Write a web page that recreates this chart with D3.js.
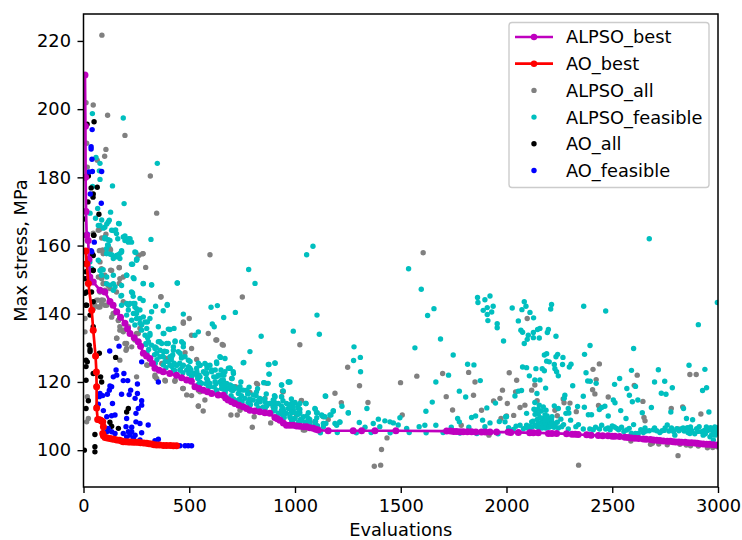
<!DOCTYPE html>
<html>
<head>
<meta charset="utf-8">
<script src="https://cdn.jsdelivr.net/npm/d3@7"></script>
<style>
  html, body { margin: 0; padding: 0; background: #fff; }
  svg { display: block; }
  text { font-family: "DejaVu Sans", sans-serif; fill: #000; }
</style>
</head>
<body>
<div id="chart"></div>
<script>
// values: [evaluations, max stress]
var xTicks = [0, 500, 1000, 1500, 2000, 2500, 3000];
var yTicks = [100, 120, 140, 160, 180, 200, 220];

var alpsoAll = [
  [87,221.7],[46,201.2],[12,201.9],[114,198.2],[196,192.3],[106,188.2],[100,186.2],[65,185],[15,190],[18,183],
  [316,180.4],[346,169.5],[598,157.3],[280,157.6],[264,157.2],[75,164.6],[106,163.3],[86,162.2],[75,158.5],[91,158.7],
  [128,158.7],[46,163.6],[294,153.6],[169,153.6],[128,152.8],[86,150.3],[102,148.9],[188,150.8],[169,148.9],[94,148.9],
  [125,147.4],[366,145],[751,144.9],[70,144],[86,144],[54,142.5],[94,144],[70,142],[46,141.5],[141,140.1],
  [165,138.1],[172,136.2],[188,134.7],[157,132.8],[204,131.3],[228,130.3],[201,129.3],[251,134.2],[267,135.7],[500,138.6],
  [472,137.6],[590,134.2],[511,133.7],[626,132.3],[656,131],[511,129.8],[535,126.6],[302,124.9],[338,121.5],[387,120.3],
  [432,120.2],[472,118.1],[488,116.2],[511,116],[551,117.1],[543,112.9],[574,114.7],[566,111.5],[697,110.3],[727,110.3],
  [798,106.7],[885,108],[818,119.6],[866,119.6],[944,117.1],[937,115.7],[897,112.7],[1007,110.3],[251,121.5],[18,115.7],
  [7,134.7],[7,138.6],[15,108.3],[23,109.3],[1606,157.9],[1023,130.9],[1249,124.3],[1576,121.7],[1698,122.5],[1305,118.9],
  [1499,119.8],[1821,122.8],[1851,120],[2013,122.7],[1981,117.6],[1844,116.1],[1715,115.7],[1969,115.2],[1939,114.4],[2004,113.7],
  [1745,111.8],[1882,111.7],[1974,109.3],[2000,110],[1786,107.3],[1189,116.7],[1219,113.9],[1345,114],[1030,114.6],[1507,110.3],
  [1134,109.8],[1157,109],[1435,103.6],[1409,100.2],[1405,95.6],[1375,95.3],[1047,105.9],[1917,104.4],[1094,108.3],[2098,138.6],
  [2048,120.5],[2043,117.1],[2119,117.6],[2134,119.1],[2064,112.5],[2087,113.2],[2034,110.2],[2145,114.5],[2229,111.7],[2240,110.1],
  [2268,115],[2272,113.9],[2300,113.8],[2330,111.3],[2409,123.7],[2439,125.3],[2424,120.7],[2407,117.7],[2418,116.5],[2481,115.6],
  [2435,113.1],[2618,122],[2604,119],[2645,114.3],[2650,109.6],[2655,108.6],[2779,112.2],[2833,112.7],[2867,122.2],[2897,122.2],
  [2919,110.6],[2811,106.2],[2811,98.4],[2681,101.7],[2588,102.7],[2341,95.6],[2820,101.7],[2907,101.2],[2997,101],
  [86,143],[110,142.5],[141,140],[133,139],[165,138],[172,135.2],[188,135.2],[212,136.2],[157,132.8],[196,131.3],
  [204,129.8],[172,126.4],[299,125],[338,122],[346,121],[385,120.5],[433,120.5],[469,118.1],[543,117.6],[543,113],
  [630,132.3],[661,130.8],[472,137.2],[480,128.6],[259,134.2],[243,132.3],[370,125.4],[393,126.9],[823,119.3],[807,109.8],
  [941,117.3],[1031,114.5],[858,115.2],[787,116.9],[740,111.7],[700,121],[1039,105.9],[719,118.6],[1097,108.5],
  [70,164.5],[101,162.5],[78,158.6],[93,157.6],[125,159.1],[282,157.6],[259,157.1],[169,153.5],[133,152.7],[78,155.2],
  [85,153.2],[101,151.3],[70,150.8],[172,150.3],[93,148.8],[117,148.3],[78,146.4],[101,146.9],[156,146.4],[62,144],
  [85,144],[78,142],[101,142.5],[188,143.5],[366,144.9],
  [2690,102],[2720,101.8],[2760,101.6],[2850,101.5],[2870,101.3],[2950,100.7],[2975,100.8]
];

var alpsoFeasible = [
  [188,197.4],[42,198.7],[349,184.1],[78,184.1],[59,185.8],[75,181.9],[78,179.4],[137,177.5],[43,177.3],[192,172.3],
  [31,169.5],[67,170.9],[128,169.8],[57,168],[86,167.5],[122,167.4],[110,166.3],[166,166.5],[70,165.9],[94,165.1],
  [141,164.4],[152,164.6],[196,162.8],[220,162],[162,162],[212,161],[319,161.8],[117,161.7],[102,162.4],[114,160.2],
  [133,157.3],[180,158.5],[247,158],[253,156.1],[165,157.3],[110,157.7],[781,153],[811,148.9],[444,149],[232,154.5],
  [251,155.9],[157,156.7],[125,157.5],[173,157.7],[70,155.7],[86,152.8],[110,150.8],[204,151.3],[239,150.3],[125,148.4],
  [149,147.9],[177,145.2],[283,148.9],[322,148.4],[232,146.1],[267,144.5],[236,143],[212,142.5],[251,141.5],[341,142.2],
  [396,142.7],[377,140.9],[322,140.6],[251,140.1],[267,138.6],[314,138.6],[302,137.6],[275,136.7],[472,139.9],[603,141.9],
  [633,142.4],[718,140.4],[663,138.9],[609,137],[618,136.2],[543,134.7],[527,133.7],[354,136.2],[401,135.5],[428,135.7],
  [380,134.2],[314,133.7],[295,131.3],[361,131.8],[393,131.3],[433,132],[472,131.3],[338,129.8],[377,128.9],[425,129.3],
  [456,128.4],[480,127.4],[409,127.4],[361,127.4],[648,127.2],[669,126.9],[629,125.9],[787,128.9],[755,125.6],[840,133.4],
  [992,134.9],[874,125.1],[906,125.5],[877,122.3],[693,124],[709,122.5],[970,120],[937,119.1],[853,119.8],[583,124.9],
  [551,124.9],[606,123.5],[629,121.5],[661,122.5],[583,122.5],[440,124.9],[488,123.5],[520,122.5],[409,124.9],[425,123.5],
  [456,123.5],[551,121.5],[598,119.6],[645,120],[677,119.6],[709,118.6],[740,117.6],[772,117.6],[803,116.2],[835,114.2],
  [866,113.7],[906,115.7],[897,112.7],[944,112.2],[976,113.2],[992,111.8],[1015,110.8],[1015,113.2],[960,110.8],[921,110.8],
  [787,114.7],[1085,159.8],[1055,157.3],[1104,139.6],[1115,134],[1279,130.3],[1277,126.3],[1309,127.2],[1310,123],[1537,153.2],
  [1597,147.2],[1657,141.5],[1627,139.5],[1688,132.6],[1567,130],[1748,127.9],[1816,125.2],[1846,125],[1726,122],[1666,120],
  [1876,120.4],[1777,117.3],[1807,115.6],[1649,114.1],[1619,111.4],[1340,112.2],[1252,110.9],[1145,115.8],[1222,112.9],[1181,111.4],
  [1096,112],[1105,111],[1170,110.3],[1130,110],[1052,113.7],[1000,114],[976,120],[1907,112.4],[1948,113.8],[1986,132],
  [1956,137.1],[1956,135.9],[1863,144.8],[1865,143.3],[1898,144.1],[1922,145.2],[1937,142.2],[1890,141],[1909,141.8],[1930,140.5],
  [1909,139.8],[1912,138],[1835,109.6],[1854,110],[1887,108.8],[1769,109.3],[1777,108.3],[1922,108],[1996,109.8],[1966,108.4],
  [1304,108.1],[1394,109.1],[1370,107.8],[1425,108.6],[1449,108.3],[1465,108],[1488,107.4],[1496,109.5],[1587,106.9],[1614,107.3],
  [1666,107.3],[1739,106.7],[1528,106.4],[1401,106.9],[1331,106.7],[1212,108.2],[1189,107.8],[1134,106.9],[1146,107.8],[1898,106.9],
  [1822,106.7],[992,112.7],[1015,112.2],[984,111.2],[1023,111],[1000,109.3],[1031,108.8],[1063,109.3],[984,108.8],[1071,108],
  [1047,108.3],[1015,107.8],[1094,107],[2675,162],[2997,143.3],[2084,143.5],[2213,142.7],[2027,141.7],[2092,142.2],[2073,141.2],
  [2209,141.4],[2365,142.2],[2469,140.8],[2111,140.4],[2128,138.8],[2056,137.9],[2907,136.8],[2068,135.2],[2076,134.6],[2158,135.7],
  [2147,135.4],[2198,135.4],[2193,134.5],[2127,134.5],[2103,133.7],[2127,133],[2155,132.9],[2234,133.4],[2098,132.5],[2084,131.3],
  [2395,130.7],[2601,129.8],[2190,128.3],[2179,127.9],[2242,128.1],[2234,127.4],[2267,127.2],[2369,128.1],[2190,126.1],[2202,125.9],
  [2226,125.1],[2265,125.1],[2305,125.2],[2297,124.4],[2229,123.9],[2237,123],[2245,121.8],[2076,124.4],[2095,124.2],[2139,123.9],
  [2169,123.9],[2179,123.3],[2108,121.8],[2134,120.6],[2158,120.6],[2185,118.2],[2376,122.7],[2384,120.3],[2396,120.2],[2424,119.6],
  [2313,118.9],[2591,123.4],[2535,121],[2511,119.3],[2569,118.1],[2610,118.7],[2718,123.6],[2700,120],[2748,120.2],[2784,118.3],
  [2732,116.7],[2754,116.4],[2863,124.9],[2938,123.7],[2946,118.3],[2927,117.5],[2363,115.8],[2276,116.1],[2273,115.2],[2144,116.6],
  [2071,117.5],[2056,117.3],[2040,115.9],[2505,114.7],[2513,113.9],[2581,116.1],[2595,114.2],[2621,114.7],[2134,114],[2155,113.2],
  [2174,112.7],[2139,111.7],[2187,111.7],[2226,113],[2245,112.2],[2336,112.8],[2368,112.6],[2292,112.2],[2295,110.9],[2281,110.8],
  [2095,110.8],[2439,111.9],[2450,112.5],[2465,112.9],[2540,111.6],[2481,110],[2387,110.4],[2402,110.4],[2565,109.3],[2642,111],
  [2685,112.5],[2777,111.2],[2837,112.2],[2957,111.2],[2000,109.8],[1993,108.3],[2303,108.8],[2257,109.1],[2182,110.3],[2174,109.3],
  [2213,108.8],[2198,109.3],[2166,108.3],[2190,108.3],[2221,107.8],[2150,107.8],[2119,108.3],[2095,107.3],[2064,107.3],[2174,106.9],
  [2205,106.9],[2134,107.3],[2261,106.9],[2292,106.2],[2328,106.9],[2363,106.2],[2394,106.2],[2421,106.7],[2450,107.3],[2469,106.2],
  [2500,107.1],[2521,106.4],[2544,106.7],[2601,107.5],[2568,105.9],[2623,104.9],[2647,105.2],[2675,105.7],[2710,105.7],[2736,105.7],
  [2760,107.4],[2768,105.6],[2796,104.4],[2815,105.7],[2840,105.6],[2851,109.3],[2880,108.9],[2870,106.8],[2899,106.3],[2911,106.9],
  [2922,105.4],[2949,105.7],[2978,105.7],[2990,105.9],[2986,104.4],[2962,103.9],[2978,103],[2867,104.9],[2930,104.4],[2032,106.1],
  [1120,105.1],[1200,105.2],[1290,105.1],[1360,105.2],[1450,105.1],[1540,105.2],[1620,105.1],[1700,105.2],[1780,105],[1860,104.9],[1960,104.8],
  [220,143],[243,142],[212,141.1],[267,141.1],[236,140.1],[204,139.6],[283,139.1],[251,138.6],[228,138.1],[267,137.2],
  [291,137.6],[243,136.7],[299,135.7],[275,135.2],[314,134.2],[291,133.7],[377,134.2],[409,135.4],[354,131.8],[307,131.8],
  [322,130.8],[338,130.3],[370,131.3],[401,131.3],[433,131.8],[464,131.8],[425,130.3],[362,129.3],[393,128.9],[448,128.9],
  [472,130.3],[346,128.4],[377,127.4],[417,127.4],[464,127.4],[496,126.4],[401,125.9],[440,124.9],[472,124.9],[503,124],
  [535,124],[551,124.9],[574,125.4],[598,124.9],[630,125.4],[645,127.4],[685,124],[567,123],[606,123],[637,122],
  [661,120.6],[535,122],[582,121],[622,120.1],[653,119.1],[685,118.1],[559,119.6],[598,118.6],[630,117.6],[669,116.6],
  [653,120.5],[645,122],[669,119.6],[692,119.1],[716,118.1],[740,118.6],[755,117.6],[779,116.6],[732,116.6],[700,117.6],
  [677,118.1],[653,118.1],[818,117.1],[834,115.2],[803,114.7],[763,115.2],[732,114.7],[787,113.7],[858,114.2],[881,113.7],
  [897,114.7],[921,113.7],[960,113.7],[984,113.7],[1023,113.7],[1051,113.7],[968,112.2],[936,111.7],[905,111.7],[850,112.7],
  [826,112.2],[984,111.3],[1007,110.8],[1039,109.8],[1070,109],[1094,112.2],[1102,111],[1126,110.3],[1141,109.8],[1181,111.6],
  [1165,110.3],[1212,108.3],[1252,111],[1197,107.3],[1134,107.8],[1094,107.3],[1023,108.3],[1055,107.8],[976,109.8],[944,110.3],
  [999,109.3],[853,119.8],[873,119.6],[878,122.3],[877,125.1],[905,125.6],[936,119.1],[968,120],[944,117.4],[936,115.7],
  [900,114.7],[913,113.7],[1143,115.9],[758,125.7],[692,124],[708,123],[669,123],[650,123.5],
  [169,166.4],[117,166.9],[78,165.9],[101,165.4],[133,164.5],[156,163.5],[188,162.5],[212,162],[227,161],[196,161.5],
  [101,162],[125,161.5],[117,160.1],[109,159.1],[109,157.6],[156,157.1],[180,158.1],[172,156.2],[243,158.1],[251,155.7],
  [227,154.5],[141,156.2],[30,155.2],[38,153.2],[93,152.9],[78,152.7],[85,151.3],[141,151.3],[204,151.3],[235,150.6],
  [109,148.8],[141,148.8],[180,148.3],[282,148.8],[322,148.5],[443,149],[141,146.9],[180,145.4],[227,146.4],[235,145.1],
  [282,143.9],[204,143],[243,143],[180,142.5],[396,142.5],
  [2130,112],[2150,110.5],[2160,109.5],[2170,108],[2180,108.5],[2195,107.5],[2205,108],[2215,109.8],[2145,109],[2125,108.5],
  [2140,107],[2185,106.5],[2160,106.8],[2110,107],[2230,107],[2245,106.5],[2480,106.5],[2530,106],[2555,105.5],[2590,105],
  [2610,104.9],[2660,105.6],[2695,106],[2725,105.2],[2750,106.5],[2790,105.5],[2825,106.2],[2858,105.2],[2890,104.8],[2935,105.8],
  [2960,106],[2970,104.5],[2995,105],
  [303,133],[296,131],[308,129.5],[300,128.5],[344,130],[336,128],[347,126.5],[339,125.5],[383,129],[375,127.5],
  [386,126],[378,125],[390,124.2],[422,128],[415,126.5],[428,125.5],[418,124.5],[431,123.4],[463,127],[455,125.5],
  [466,124.5],[458,123.5],[470,122.7],[504,126],[496,124.5],[508,123.5],[498,122.5],[511,121.5],[543,125.5],[536,123],
  [546,122],[540,121],[550,120],[543,119.3],[584,124],[576,122.5],[587,120.5],[579,119.5],[590,118.8],[623,123.5],
  [616,121.5],[626,119.5],[618,118.5],[629,117.5],[664,122],[656,120.5],[667,119],[659,118],[670,117.2],[703,121],
  [696,119],[706,117.5],[698,116],[709,115],[744,120],[736,118],[747,116],[739,115],[750,114.2],[783,118.5],
  [776,116.5],[786,115],[778,114],[789,113.3],[823,118],[816,116],[826,114.5],[818,113.5],[829,112.4],[864,116.5],
  [856,115],[867,113],[859,112.2],[903,116],[896,113.5],[906,112.5],[898,111.5],[943,114.5],[936,113],[946,111.5],
  [938,110.5],[949,109.6],[983,115],[976,112.5],[986,111],[978,109.5],[989,108.6],[1023,112],[1016,110.5],[1026,109],
  [1018,108.2],[1063,111],[1056,110],[1066,108.5],[1058,107.6],[1103,109.5],[1096,108.5],[1106,107.2],
  [2100,106.5],[2120,106.8],[2135,110.5],[2152,106.6],[2165,111.5],[2178,107.2],[2192,110],[2200,106.7],[2210,107.6],[2225,106.7],
  [2240,108.2],[2168,106.5],[2185,109.2],[2150,112],[2010,106.6],[2045,107],[2080,106.3],[2110,106.4],[2270,107.5],[2340,107.5],
  [2410,106],[2440,106.2],[2490,106],[2510,106.8],[2580,106.4],[2635,106],[2655,106.5],[2700,106.5],[2745,105.8],[2780,106.5],
  [2805,106.3],[2835,106.5],[2855,106.6],[2875,105.8],[2905,105.5],[2945,106.8],[2965,106.6],[2985,106.8],[2998,106.5],[2940,104.8]
];

var aoAll = [
  [50,196.3],[17,195.6],[23,180.4],[36,176.9],[65,177.1],[46,175.1],[45,174.2],[21,172.8],[73,169.2],[2,167.8],
  [48,163],[43,157.4],[4,154.7],[46,152.8],[12,152.3],[7,150.3],[7,146],[15,142.5],[31,139.6],[46,136.2],
  [27,130.8],[31,129.5],[31,128.9],[75,128.4],[152,127.2],[12,126.4],[18,125.9],[12,124.5],[81,121.5],[86,120],
  [12,112.2],[23,114.5],[212,112.2],[204,111.2],[125,108.2],[133,107],[165,106.4],[54,104.6],[4,100],[54,101],
  [54,99.5],[62,112.7],[46,122.5],[12,120.5],[49,163],[46,157.1],[46,152.7],[15,150.3],[15,146.4],[38,146.4],
  [11,142.5],[46,143.5]
];

var aoFeasible = [
  [41,194],[36,189],[36,188.3],[40,185.3],[42,181.7],[86,181.7],[26,181.6],[32,175.1],[84,172.4],[18,163.3],
  [51,161],[36,158.5],[39,158.2],[124,129.1],[168,130.5],[275,125.9],[354,120],[154,123.5],[157,122],[141,121.5],
  [191,122.5],[188,120.4],[209,120.4],[255,119.4],[125,118.8],[133,118.6],[122,117.6],[113,116.4],[78,116.6],[91,116],
  [75,115.7],[180,116.4],[223,117.6],[216,116.3],[255,116.6],[244,115.2],[70,113.5],[137,113.7],[275,114.5],[275,113.2],
  [259,112.2],[248,110.8],[94,111.6],[149,110.3],[133,110.1],[110,109.8],[204,109.3],[248,108.3],[267,107.8],[306,107.4],
  [201,106.9],[228,106.7],[228,105.4],[212,105.4],[275,105.1],[188,104.9],[117,106.4],[133,105.4],[149,104.9],[110,105.4],
  [204,103.9],[236,103.4],[354,103.2],[267,103],[338,102.8],[220,104.4],[244,104.4],[456,101.3],[480,101.3],[495,101.3],[511,101.3]
];

var alpsoBest = [
  [7,210],[9,195],[10,180],[12,170],[15,163],[22,161.5],[26,156],[30,150.8],[46,149.3],[78,146.9],
  [101,146.4],[125,143.6],[140,142.5],[157,140.6],[175,139],[196,137.2],[208,135.6],[220,134.2],[240,133],[259,131.8],
  [270,130.5],[283,128.4],[298,127.6],[314,126.9],[326,125.4],[338,124],[358,123.4],[377,123],[408,122.5],[440,122],
  [464,121.2],[488,120.6],[510,120.2],[527,118.6],[547,118.1],[567,117.6],[586,117.1],[606,116.6],[637,116.2],[661,116.1],
  [672,115.3],[684,114.7],[700,114.2],[716,113.7],[735,113.2],[755,112.7],[771,112.2],[787,111.7],[810,111.5],[834,111.3],
  [858,111],[881,110.8],[905,109.6],[917,109.2],[929,108.8],[945,108],[960,107.3],[976,107.3],[992,107.3],[1008,107.1],
  [1023,107],[1040,106.9],[1055,106.9],[1070,106.6],[1086,106.4],[1098,106.1],[1110,105.9],[1157,105.7],[1275,105.7],[1315,105.7],
  [1378,105.7],[1477,105.7],[1717,105.6],[1735,105.6],[1750,105.5],[1764,105.5],[1780,105.4],[1795,105.4],[1815,105.4],[1835,105.4],
  [1855,105.3],[1882,105.3],[1900,105.3],[1922,105.3],[1953,105.3],[2008,105.3],[2020,105.2],[2056,105.2],[2110,105.1],[2127,105.1],
  [2150,105.1],[2198,104.9],[2215,104.9],[2237,104.9],[2284,104.8],[2310,104.7],[2325,104.7],[2339,104.6],[2379,104.5],[2400,104.4],
  [2434,104.3],[2455,104.2],[2480,104.2],[2500,104.1],[2513,104.1],[2535,104],[2560,103.8],[2575,103.7],[2590,103.6],[2607,103.5],
  [2625,103.4],[2647,103.3],[2660,103.2],[2680,103.1],[2694,103],[2710,102.9],[2725,102.8],[2741,102.7],[2760,102.6],[2775,102.6],
  [2788,102.5],[2800,102.4],[2815,102.4],[2828,102.3],[2845,102.3],[2860,102.2],[2875,102.2],[2890,102.1],[2902,102],[2915,101.9],
  [2930,101.8],[2946,101.7],[2960,101.7],[2978,101.6],[2997,101.5]
];

var aoBest = [
  [11,158.4],[15,154.7],[23,148.9],[39,141],[46,135.2],[57,127.6],[61,122.9],[62,118.6],[62,112.4],[67,109],
  [75,108.9],[81,108.8],[87,108.5],[91,108.3],[94,106.9],[91,104.9],[94,104.2],[102,103.7],[112,103.6],[125,103.4],
  [135,103.3],[145,103.2],[157,103],[170,102.9],[180,102.7],[188,102.5],[200,102.5],[212,102.4],[222,102.4],[235,102.3],
  [248,102.3],[259,102.3],[270,102.2],[285,102.1],[299,102],[310,101.9],[322,101.8],[334,101.6],[346,101.5],[360,101.5],
  [378,101.4],[393,101.4],[410,101.4],[425,101.3],[440,101.3]
];

var width = 742, height = 540;
var margin = { top: 14, right: 24, bottom: 53, left: 83.5 };
var fontSize = "17.8px";

var svg = d3.select("#chart")
    .append("svg")
    .attr("width", width)
    .attr("height", height);

var x = d3.scaleLinear()
    .domain([0, 3000])
    .range([margin.left, width - margin.right]);

var y = d3.scaleLinear()
    .domain([89.2, 227.9])
    .range([height - margin.bottom, margin.top]);

// clip marks to the axes box
svg.append("clipPath")
    .attr("id", "plot-clip")
    .append("rect")
    .attr("x", margin.left)
    .attr("y", margin.top)
    .attr("width", width - margin.left - margin.right)
    .attr("height", height - margin.top - margin.bottom);

var plot = svg.append("g").attr("clip-path", "url(#plot-clip)");

function drawScatter(data, color) {
    plot.append("g")
        .selectAll("circle")
        .data(data)
        .enter()
        .append("circle")
        .attr("cx", function (d) { return x(d[0]); })
        .attr("cy", function (d) { return y(d[1]); })
        .attr("r", 2.7)
        .attr("fill", color);
}

function drawBest(data, color) {
    var line = d3.line()
        .x(function (d) { return x(d[0]); })
        .y(function (d) { return y(d[1]); });

    plot.append("path")
        .datum(data)
        .attr("d", line)
        .attr("fill", "none")
        .attr("stroke", color)
        .attr("stroke-width", 2.7);

    plot.append("g")
        .selectAll("circle")
        .data(data)
        .enter()
        .append("circle")
        .attr("cx", function (d) { return x(d[0]); })
        .attr("cy", function (d) { return y(d[1]); })
        .attr("r", 3.5)
        .attr("fill", color);
}

drawScatter(alpsoAll, "#808080");
drawScatter(alpsoFeasible, "#00bfbf");
drawScatter(aoAll, "#000000");
drawScatter(aoFeasible, "#0000ff");
drawBest(alpsoBest, "#bf00bf");
drawBest(aoBest, "#ff0000");

// axes
var xAxis = svg.append("g")
    .attr("transform", "translate(0," + (height - margin.bottom) + ")")
    .call(d3.axisBottom(x).tickValues(xTicks).tickFormat(d3.format("d")).tickSize(6).tickPadding(6.5));

var yAxis = svg.append("g")
    .attr("transform", "translate(" + margin.left + ",0)")
    .call(d3.axisLeft(y).tickValues(yTicks).tickFormat(d3.format("d")).tickSize(6).tickPadding(6.5));

svg.selectAll(".tick text").style("font-size", fontSize).style("font-family", '"DejaVu Sans"');
svg.selectAll(".tick line").attr("stroke-width", 1.4);
xAxis.select(".domain").remove();
yAxis.select(".domain").remove();

// frame
svg.append("rect")
    .attr("x", margin.left)
    .attr("y", margin.top)
    .attr("width", width - margin.left - margin.right)
    .attr("height", height - margin.top - margin.bottom)
    .attr("fill", "none")
    .attr("stroke", "#000")
    .attr("stroke-width", 1.5);

// axis labels
svg.append("text")
    .attr("x", (margin.left + width - margin.right) / 2)
    .attr("y", 535.7)
    .attr("text-anchor", "middle")
    .style("font-size", fontSize)
    .text("Evaluations");

svg.append("text")
    .attr("transform", "translate(26.5,250.5) rotate(-90)")
    .attr("text-anchor", "middle")
    .style("font-size", fontSize)
    .text("Max stress, MPa");

// legend
var legendItems = [
    { name: "ALPSO_best", color: "#bf00bf", line: true },
    { name: "AO_best", color: "#ff0000", line: true },
    { name: "ALPSO_all", color: "#808080", line: false },
    { name: "ALPSO_feasible", color: "#00bfbf", line: false },
    { name: "AO_all", color: "#000000", line: false },
    { name: "AO_feasible", color: "#0000ff", line: false }
];

svg.append("rect")
    .attr("x", 509)
    .attr("y", 22.5)
    .attr("width", 200)
    .attr("height", 165)
    .attr("rx", 3)
    .attr("fill", "#fff")
    .attr("fill-opacity", 0.8)
    .attr("stroke", "#ccc")
    .attr("stroke-width", 1.4);

var legend = svg.selectAll(".legend")
    .data(legendItems)
    .enter()
    .append("g")
    .attr("class", "legend")
    .attr("transform", function (d, i) { return "translate(0," + (37 + i * 26.7) + ")"; });

legend.filter(function (d) { return d.line; })
    .append("line")
    .attr("x1", 515)
    .attr("x2", 553)
    .attr("stroke", function (d) { return d.color; })
    .attr("stroke-width", 2.7);

legend.append("circle")
    .attr("cx", 534)
    .attr("r", function (d) { return d.line ? 3.2 : 2.7; })
    .attr("fill", function (d) { return d.color; });

legend.append("text")
    .attr("x", 566)
    .attr("dy", "0.36em")
    .style("font-size", fontSize)
    .text(function (d) { return d.name; });
</script>
</body>
</html>
